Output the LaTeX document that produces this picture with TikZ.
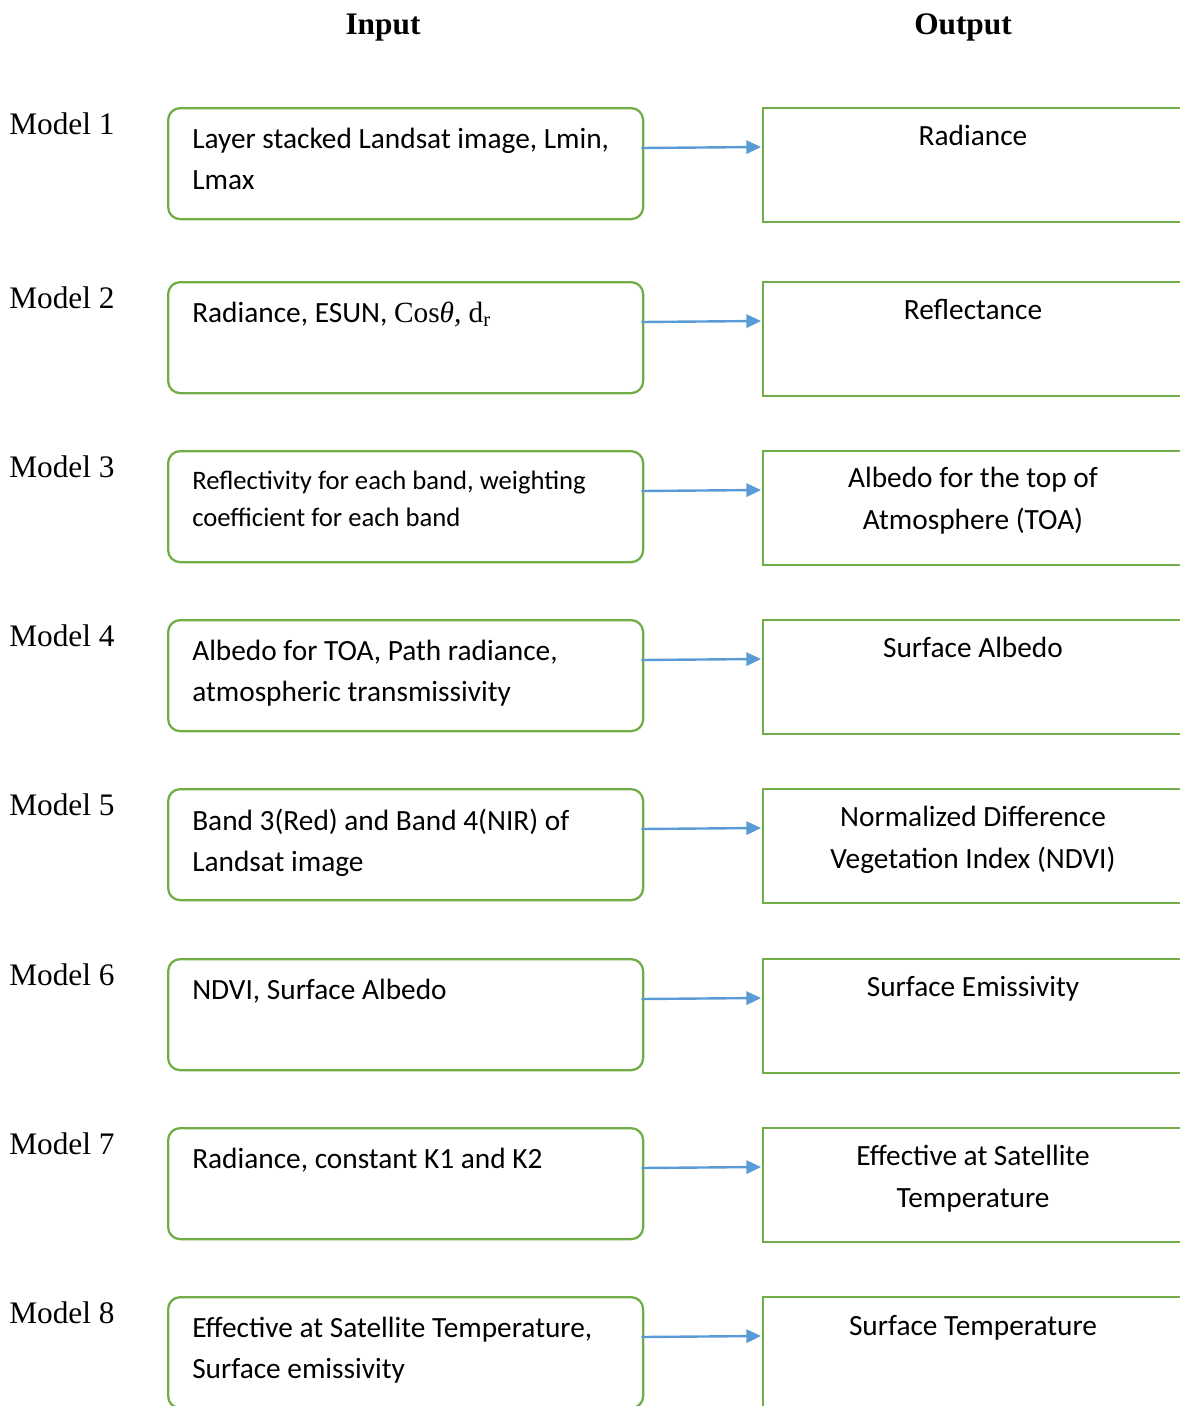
\documentclass[tikz,border=0pt]{standalone}
\usepackage{fontspec}
\setmainfont{Liberation Serif}
\newfontfamily\calibri{Carlito}
\usepackage{tikz}
\usetikzlibrary{arrows.meta,calc}
\definecolor{boxgreen}{RGB}{112,173,71}
\definecolor{arrowblue}{RGB}{91,155,213}

\begin{document}
\begin{tikzpicture}[x=0.75pt,y=0.75pt,yscale=-1,xscale=1,
  inbox/.style={draw=boxgreen,line width=1.7pt,rounded corners=9pt,inner sep=0pt,anchor=north west,minimum width=356.25pt,minimum height=83.25pt},
  outbox/.style={draw=boxgreen,line width=1.7pt,inner sep=0pt,anchor=north west,minimum width=316.5pt,minimum height=85.5pt},
  intext/.style={anchor=base west,inner sep=0pt,align=left,font=\calibri\fontsize{22}{30.75}\selectfont},
  outtext/.style={anchor=base,inner sep=0pt,align=center,font=\calibri\fontsize{22}{31.5}\selectfont},
  modellab/.style={anchor=base west,inner sep=0pt,font=\fontsize{23.5}{28}\selectfont},
  headlab/.style={anchor=base,inner sep=0pt,font=\bfseries\fontsize{23.5}{28}\selectfont},
  flow/.style={draw=arrowblue,line width=1.8pt,-{Triangle[length=11pt,width=10pt]}}]
\useasboundingbox (0,0) rectangle (1180,1406);
\clip (0,0) rectangle (1180,1406);

% Headings
\node[headlab] (hin) at (383,34) {Input};
\node[headlab] (hout) at (963,34) {Output};

% Model 1 (two-line texts are placed at the baseline of their last line)
\node[modellab] (m1) at (9,134) {Model 1};
\node[inbox] (in1) at (167,107) {};
\node[outbox] (out1) at (762,107) {};
\node[intext] (in1t) at (192,189) {Layer stacked Landsat image, Lmin,\\Lmax};
\node[outtext] (out1t) at (973,145) {Radiance};
\draw[flow] ($(in1.north east)+(-3,41)$) -- ($(out1.north west)+(-1,40)$);

% Model 2
\node[modellab] (m2) at (9,308) {Model 2};
\node[inbox] (in2) at (167,281) {};
\node[outbox] (out2) at (762,281) {};
\node[intext] (in2t) at (192,322) {Radiance, ESUN, {\rmfamily Cos\textit{θ,} d\textsubscript{r}}};
\node[outtext] (out2t) at (973,319) {Reflectance};
\draw[flow] ($(in2.north east)+(-3,41)$) -- ($(out2.north west)+(-1,40)$);

% Model 3
\node[modellab] (m3) at (9,477) {Model 3};
\node[inbox] (in3) at (167,450) {};
\node[outbox] (out3) at (762,450) {};
\node[intext,font=\calibri\fontsize{20}{27.75}\selectfont] (in3t) at (192,526) {Reflectivity for each band, weighting\\coefficient for each band};
\node[outtext] (out3t) at (973,529) {Albedo for the top of\\Atmosphere (TOA)};
\draw[flow] ($(in3.north east)+(-3,41)$) -- ($(out3.north west)+(-1,40)$);

% Model 4
\node[modellab] (m4) at (9,646) {Model 4};
\node[inbox] (in4) at (167,619) {};
\node[outbox] (out4) at (762,619) {};
\node[intext] (in4t) at (192,701) {Albedo for TOA, Path radiance,\\atmospheric transmissivity};
\node[outtext] (out4t) at (973,657) {Surface Albedo};
\draw[flow] ($(in4.north east)+(-3,41)$) -- ($(out4.north west)+(-1,40)$);

% Model 5
\node[modellab] (m5) at (9,815) {Model 5};
\node[inbox] (in5) at (167,788) {};
\node[outbox] (out5) at (762,788) {};
\node[intext] (in5t) at (192,871) {Band 3(Red) and Band 4(NIR) of\\Landsat image};
\node[outtext] (out5t) at (973,868) {Normalized Difference\\Vegetation Index (NDVI)};
\draw[flow] ($(in5.north east)+(-3,41)$) -- ($(out5.north west)+(-1,40)$);

% Model 6
\node[modellab] (m6) at (9,985) {Model 6};
\node[inbox] (in6) at (167,958) {};
\node[outbox] (out6) at (762,958) {};
\node[intext] (in6t) at (192,999) {NDVI, Surface Albedo};
\node[outtext] (out6t) at (973,996) {Surface Emissivity};
\draw[flow] ($(in6.north east)+(-3,41)$) -- ($(out6.north west)+(-1,40)$);

% Model 7
\node[modellab] (m7) at (9,1154) {Model 7};
\node[inbox] (in7) at (167,1127) {};
\node[outbox] (out7) at (762,1127) {};
\node[intext] (in7t) at (192,1168) {Radiance, constant K1 and K2};
\node[outtext] (out7t) at (973,1207) {Effective at Satellite\\Temperature};
\draw[flow] ($(in7.north east)+(-3,41)$) -- ($(out7.north west)+(-1,40)$);

% Model 8
\node[modellab] (m8) at (9,1323) {Model 8};
\node[inbox] (in8) at (167,1296) {};
\node[outbox] (out8) at (762,1296) {};
\node[intext] (in8t) at (192,1378) {Effective at Satellite Temperature,\\Surface emissivity};
\node[outtext] (out8t) at (973,1335) {Surface Temperature};
\draw[flow] ($(in8.north east)+(-3,41)$) -- ($(out8.north west)+(-1,40)$);

\end{tikzpicture}
\end{document}
